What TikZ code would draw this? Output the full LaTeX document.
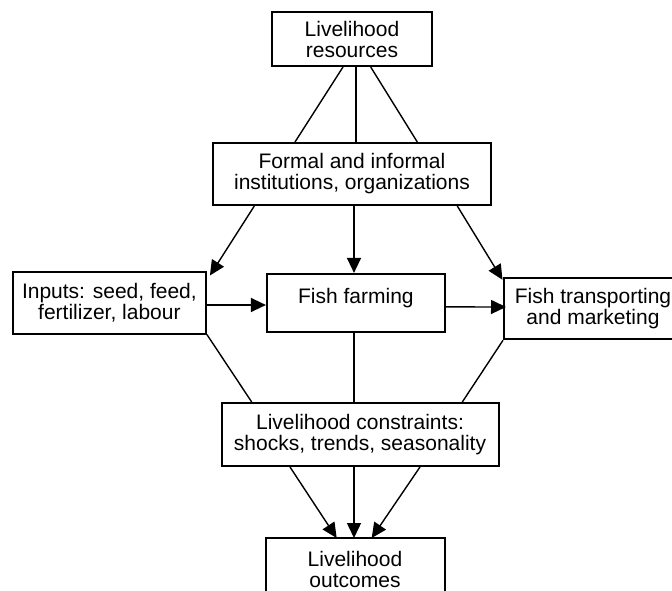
\documentclass[tikz,border=0pt]{standalone}
\usepackage{fontspec}
\setmainfont{Liberation Sans}
\usetikzlibrary{arrows.meta,calc}
\begin{document}
\begin{tikzpicture}[x=1pt,y=-1pt,
  box/.style={draw=black,line width=2pt,rectangle,inner sep=0pt,align=center,
    font=\fontsize{21}{21}\selectfont},
  conn/.style={draw=black,line width=1.4pt},
  arr/.style={conn,-{Triangle[length=15pt,width=14pt]}},
  lbl/.style={inner sep=0pt,anchor=base,font=\fontsize{21}{21}\selectfont}]
\useasboundingbox (0,0) rectangle (672,591);
\clip (0,0) rectangle (672,591);
\fill[white] (0,0) rectangle (672,591);
% boxes
\node[box,minimum width=160pt,minimum height=54pt] (res) at (352,39) {Livelihood\\resources};
\node[box,minimum width=278pt,minimum height=62pt] (inst) at (352,174) {Formal and informal\\institutions, organizations};
\node[box,minimum width=193pt,minimum height=62pt] (inp) at (109.4,302.5) {Inputs: seed, feed,\\fertilizer, labour};
\node[box,minimum width=178pt,minimum height=58pt] (ff) at (355.9,302.9) {};
\node[lbl] (fflbl) at (355.9,303) {Fish farming};
\node[box,minimum width=178pt,minimum height=61pt] (tr) at (593,308.8) {Fish transporting\\and marketing};
\node[box,minimum width=277pt,minimum height=63pt] (con) at (360,434.5) {Livelihood constraints:\\shocks, trends, seasonality};
\node[box,minimum width=179pt,minimum height=62pt] (out) at (355,569) {Livelihood\\outcomes};
% resources to institutions
\draw[conn] ($(res.south)+(-9,0)$) -- ($(inst.north)+(-57,0)$);
\draw[conn] ($(res.south)+(4,0)$) -- ($(inst.north)+(4,0)$);
\draw[conn] ($(res.south)+(18.7,0)$) -- ($(inst.north)+(65.3,0)$);
% institutions to the three middle boxes
\draw[arr] ($(inst.south)+(-97.7,0)$) -- ($(inp.north east)+(3,5)$);
\draw[arr] ($(inst.south)+(2,0)$) -- ($(ff.north)+(-1.9,0)$);
\draw[arr] ($(inst.south)+(105.3,0)$) -- ($(tr.north west)+(-0.5,2.5)$);
% horizontal flow
\draw[arr] ($(inp.east)+(0,2.5)$) -- ($(ff.west)+(0,2.1)$);
\draw[arr] ($(ff.east)+(0,4)$) -- ($(tr.west)+(3,-1.8)$);
% middle boxes to constraints
\draw[conn] (inp.south east) -- ($(con.north)+(-108.3,0)$);
\draw[conn] ($(ff.south)+(-1.9,0)$) -- ($(con.north)+(-6,0)$);
\draw[conn] (tr.south west) -- ($(con.north)+(102.3,0)$);
% constraints to outcomes
\draw[arr] ($(con.south)+(-70,0)$) -- ($(out.north)+(-18.3,1)$);
\draw[arr] ($(con.south)+(-6,0)$) -- ($(out.north)+(-1,1)$);
\draw[arr] ($(con.south)+(60,0)$) -- ($(out.north)+(16.7,1)$);
\end{tikzpicture}
\end{document}
